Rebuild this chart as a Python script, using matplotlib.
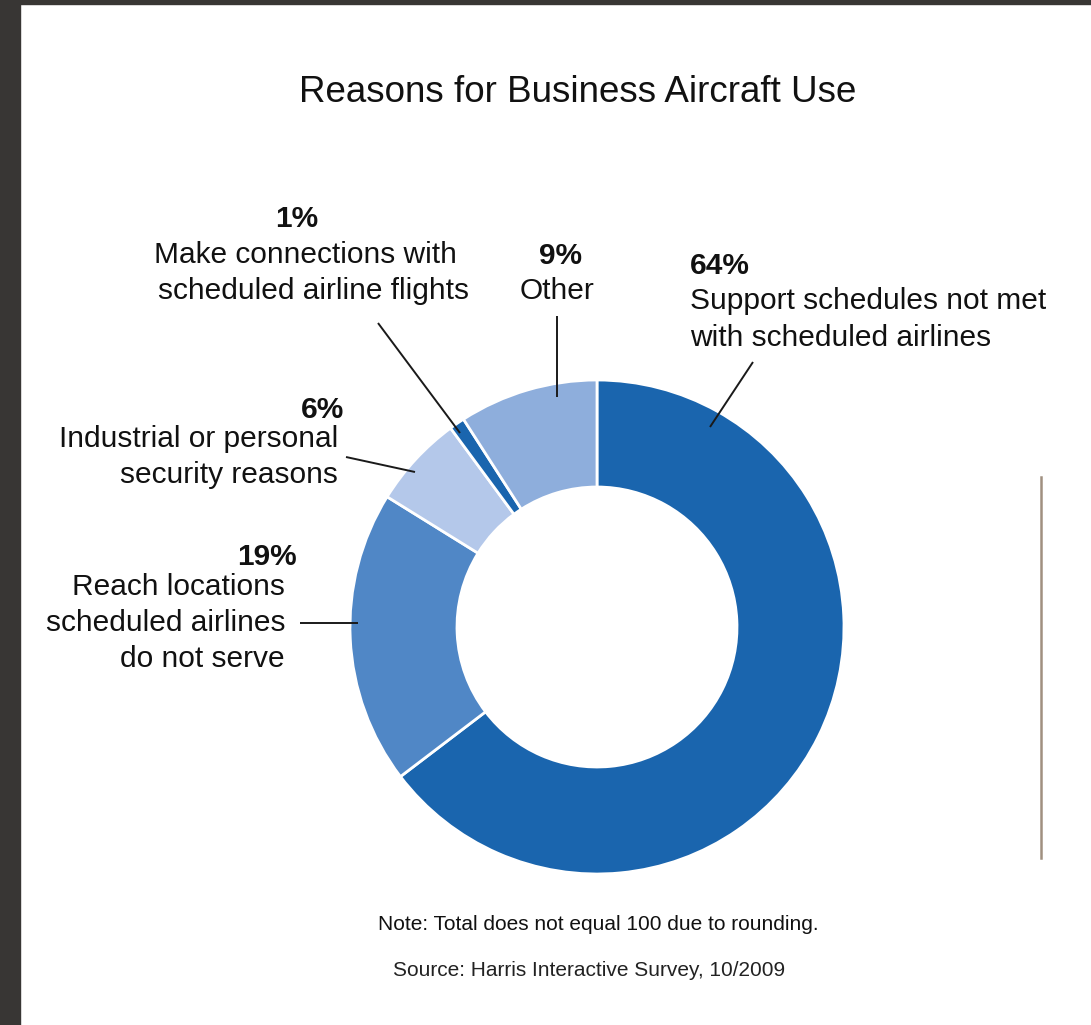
import matplotlib
matplotlib.use("Agg")
import matplotlib.pyplot as plt
from matplotlib.patches import Rectangle

plt.rcParams['font.family'] = ['Liberation Sans', 'DejaVu Sans']

# ---- data ----
categories = [
    "Support schedules not met\nwith scheduled airlines",
    "Reach locations\nscheduled airlines\ndo not serve",
    "Industrial or personal\nsecurity reasons",
    "Make connections with\nscheduled airline flights",
    "Other",
]
values = [64, 19, 6, 1, 9]
pct_labels = ["64%", "19%", "6%", "1%", "9%"]
colors = ["#1a65ae", "#5087c6", "#b4c8ea", "#1a65ae", "#8eaedc"]

title = "Reasons for Business Aircraft Use"
note = "Note: Total does not equal 100 due to rounding."
source = "Source: Harris Interactive Survey, 10/2009"

W, H = 1091, 1025
fig = plt.figure(figsize=(W / 100, H / 100), dpi=100)
ax = fig.add_axes([0, 0, 1, 1])
ax.set_xlim(0, W)
ax.set_ylim(0, H)
ax.set_aspect('equal')
ax.axis('off')

def Y(y):
    return H - y

# frame (dark border left and top)
ax.add_patch(Rectangle((0, 0), 20, H, color="#383634", zorder=0))
ax.add_patch(Rectangle((0, Y(4)), W, 4, color="#383634", zorder=0))

# donut
cx, cy, R, Rin = 597, 627, 247, 140
ax.pie(values, colors=colors, startangle=90, counterclock=False,
       center=(cx, Y(cy)), radius=R, frame=True,
       wedgeprops=dict(width=R - Rin, edgecolor="white", linewidth=2))
ax.set_xlim(0, W)
ax.set_ylim(0, H)
ax.axis('off')

fs = 21.5
lc = "#1a1a1a"
tc = "#111111"

def line(x0, y0, x1, y1):
    ax.plot([x0, x1], [Y(y0), Y(y1)], color=lc, lw=1.4, zorder=5,
            solid_capstyle='butt')

# 64%
ax.text(690, Y(266), pct_labels[0], fontsize=fs, fontweight='bold', ha='left', va='center', color=tc)
for i, s in enumerate(categories[0].split("\n")):
    ax.text(690, Y(301 + 37 * i), s, fontsize=fs, ha='left', va='center', color=tc)
line(753, 362, 710, 427)

# 9%
ax.text(560, Y(256), pct_labels[4], fontsize=fs, fontweight='bold', ha='center', va='center', color=tc)
ax.text(557, Y(291), categories[4], fontsize=fs, ha='center', va='center', color=tc)
line(557, 316, 557, 397)

# 1%
ax.text(297, Y(219), pct_labels[3], fontsize=fs, fontweight='bold', ha='center', va='center', color=tc)
l1 = categories[3].split("\n")
ax.text(305, Y(255), l1[0], fontsize=fs, ha='center', va='center', color=tc)
ax.text(313, Y(291), l1[1], fontsize=fs, ha='center', va='center', color=tc)
line(378, 323, 460, 433)

# 6%
ax.text(344, Y(410), pct_labels[2], fontsize=fs, fontweight='bold', ha='right', va='center', color=tc)
for i, s in enumerate(categories[2].split("\n")):
    ax.text(338, Y(439 + 36 * i), s, fontsize=fs, ha='right', va='center', color=tc)
line(346, 457, 415, 472)

# 19%
ax.text(297, Y(557), pct_labels[1], fontsize=fs, fontweight='bold', ha='right', va='center', color=tc)
for i, s in enumerate(categories[1].split("\n")):
    ax.text(285, Y(587 + 36 * i), s, fontsize=fs, ha='right', va='center', color=tc)
line(300, 623, 358, 623)

# title, note, source
ax.text(578, Y(92), title, fontsize=26.5, ha='center', va='center', color=tc)
ax.text(598, Y(925), note, fontsize=15, ha='center', va='center', color=tc)
ax.text(589, Y(970), source, fontsize=15, ha='center', va='center', color="#222222")

# right vertical rule
ax.plot([1041, 1041], [Y(477), Y(858)], color="#a09080", lw=1.8)

fig.savefig("out.png", dpi=100)
